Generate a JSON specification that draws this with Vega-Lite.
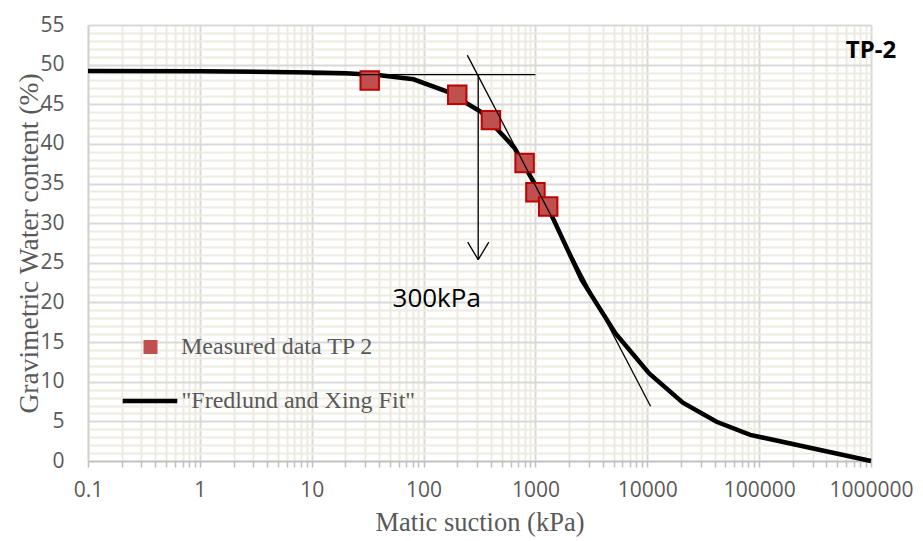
{
  "$schema": "https://vega.github.io/schema/vega-lite/v6.json",
  "width": 783,
  "height": 436,
  "autosize": {"type": "none"},
  "padding": {"left": 88, "top": 25, "right": 52, "bottom": 80},
  "background": "white",
  "config": {"view": {"stroke": null}, "font": "Open Sans"},
  "resolve": {"axis": {"x": "independent", "y": "independent"}},
  "layer": [
    {
      "data": {"values": [
        {"suction": 0.1, "w": 49.2, "series": "\"Fredlund and Xing Fit\""},
        {"suction": 1, "w": 49.18, "series": "\"Fredlund and Xing Fit\""},
        {"suction": 10, "w": 49.0, "series": "\"Fredlund and Xing Fit\""},
        {"suction": 20.3, "w": 48.9, "series": "\"Fredlund and Xing Fit\""},
        {"suction": 40.6, "w": 48.65, "series": "\"Fredlund and Xing Fit\""},
        {"suction": 81.25, "w": 48.15, "series": "\"Fredlund and Xing Fit\""},
        {"suction": 162.5, "w": 46.6, "series": "\"Fredlund and Xing Fit\""},
        {"suction": 325, "w": 44.05, "series": "\"Fredlund and Xing Fit\""},
        {"suction": 650, "w": 39.5, "series": "\"Fredlund and Xing Fit\""},
        {"suction": 1300, "w": 31.9, "series": "\"Fredlund and Xing Fit\""},
        {"suction": 2600, "w": 22.8, "series": "\"Fredlund and Xing Fit\""},
        {"suction": 5200, "w": 16.1, "series": "\"Fredlund and Xing Fit\""},
        {"suction": 10400, "w": 11.05, "series": "\"Fredlund and Xing Fit\""},
        {"suction": 20800, "w": 7.35, "series": "\"Fredlund and Xing Fit\""},
        {"suction": 41600, "w": 4.95, "series": "\"Fredlund and Xing Fit\""},
        {"suction": 83200, "w": 3.3, "series": "\"Fredlund and Xing Fit\""},
        {"suction": 1000000, "w": 0, "series": "\"Fredlund and Xing Fit\""}
      ]},
      "mark": {"type": "line", "strokeWidth": 4.5},
      "encoding": {
        "x": {
          "field": "suction", "type": "quantitative",
          "scale": {"type": "log", "domain": [0.1, 1000000], "nice": false},
          "axis": {
            "orient": "bottom",
            "values": [0.2,0.3,0.4,0.5,0.6,0.7,0.8,0.9,2,3,4,5,6,7,8,9,20,30,40,50,60,70,80,90,200,300,400,500,600,700,800,900,2000,3000,4000,5000,6000,7000,8000,9000,20000,30000,40000,50000,60000,70000,80000,90000,200000,300000,400000,500000,600000,700000,800000,900000],
            "grid": true, "gridColor": "#eeece1", "gridWidth": 2,
            "labels": false, "domain": false,
            "ticks": true, "tickColor": "#bfbfbf", "tickSize": 6, "tickWidth": 1.5,
            "title": null
          }
        },
        "y": {
          "field": "w", "type": "quantitative",
          "scale": {"domain": [0, 55], "nice": false, "zero": true},
          "axis": {
            "orient": "left",
            "values": [1,2,3,4,6,7,8,9,11,12,13,14,16,17,18,19,21,22,23,24,26,27,28,29,31,32,33,34,36,37,38,39,41,42,43,44,46,47,48,49,51,52,53,54],
            "grid": true, "gridColor": "#eeece1", "gridWidth": 2,
            "labels": false, "domain": false, "ticks": false,
            "title": null
          }
        },
        "color": {
          "field": "series", "type": "nominal",
          "scale": {"domain": ["\"Fredlund and Xing Fit\""], "range": ["black"]},
          "legend": {
            "orient": "none", "legendX": 32, "legendY": 346,
            "title": null, "padding": 0,
            "symbolType": "stroke", "symbolSize": 2980, "symbolStrokeWidth": 4.5,
            "symbolStrokeColor": "black",
            "labelFont": "Liberation Serif", "labelFontSize": 24, "labelColor": "#595959",
            "labelLimit": 500, "labelOffset": 1.5
          }
        }
      }
    },
    {
      "data": {"values": [
        {"suction": 33, "w": 48.0, "series": "Measured data TP 2"},
        {"suction": 200, "w": 46.2, "series": "Measured data TP 2"},
        {"suction": 400, "w": 43.0, "series": "Measured data TP 2"},
        {"suction": 800, "w": 37.6, "series": "Measured data TP 2"},
        {"suction": 1000, "w": 33.9, "series": "Measured data TP 2"},
        {"suction": 1300, "w": 32.1, "series": "Measured data TP 2"}
      ]},
      "mark": {"type": "point", "filled": true, "fill": "#c0504d", "stroke": "#c00000", "strokeWidth": 2, "opacity": 1, "size": 340},
      "encoding": {
        "x": {
          "field": "suction", "type": "quantitative",
          "axis": {
            "orient": "bottom",
            "values": [0.1, 1, 10, 100, 1000, 10000, 100000, 1000000],
            "format": "~f",
            "grid": true, "gridColor": "#d9d9d9", "gridWidth": 2,
            "domain": true, "domainColor": "#bfbfbf", "domainWidth": 1.5,
            "ticks": true, "tickColor": "#bfbfbf", "tickSize": 6, "tickWidth": 1.5,
            "labelFont": "Open Sans", "labelFontSize": 21, "labelColor": "#595959",
            "labelPadding": 12, "labelOverlap": false, "labelFlush": false,
            "title": "Matic suction (kPa)",
            "titleFont": "Liberation Serif", "titleFontSize": 26.5, "titleFontWeight": "normal",
            "titleColor": "#595959", "titleBaseline": "alphabetic", "titleY": 69
          }
        },
        "y": {
          "field": "w", "type": "quantitative",
          "axis": {
            "orient": "left",
            "values": [0, 5, 10, 15, 20, 25, 30, 35, 40, 45, 50, 55],
            "grid": true, "gridColor": "#d9d9d9", "gridWidth": 2,
            "domain": true, "domainColor": "#d0d0d0", "domainWidth": 1.5,
            "ticks": false, "tickSize": 0,
            "labelFont": "Open Sans", "labelFontSize": 21, "labelColor": "#595959",
            "labelPadding": 24, "labelOverlap": false, "labelFlush": false,
            "title": "Gravimetric Water content (%)",
            "titleFont": "Liberation Serif", "titleFontSize": 27.5, "titleFontWeight": "normal",
            "titleColor": "#595959", "titleAlign": "center", "titleBaseline": "alphabetic",
            "titleX": -51, "titleY": 218, "titleAngle": -90
          }
        },
        "shape": {
          "field": "series", "type": "nominal",
          "scale": {"domain": ["Measured data TP 2"], "range": ["square"]},
          "legend": {
            "orient": "none", "legendX": 50.5, "legendY": 310,
            "title": null, "padding": 0,
            "symbolSize": 196, "symbolStrokeWidth": 2,
            "symbolFillColor": "#c0504d", "symbolStrokeColor": "#c00000",
            "labelFont": "Liberation Serif", "labelFontSize": 24, "labelColor": "#595959",
            "labelLimit": 500, "labelOffset": 18.5
          }
        }
      }
    },
    {
      "data": {"values": [
        {"sx": 10, "wy": 48.75, "sx2": 1000, "wy2": 48.75},
        {"sx": 246, "wy": 51.2, "sx2": 10700, "wy2": 6.9},
        {"sx": 308, "wy": 48.75, "sx2": 308, "wy2": 25.4},
        {"sx": 248, "wy": 27.6, "sx2": 308, "wy2": 25.4},
        {"sx": 383, "wy": 27.6, "sx2": 308, "wy2": 25.4}
      ]},
      "mark": {"type": "rule", "color": "black", "strokeWidth": 1.3},
      "encoding": {
        "x": {"field": "sx", "type": "quantitative", "axis": null},
        "y": {"field": "wy", "type": "quantitative", "axis": null},
        "x2": {"field": "sx2"},
        "y2": {"field": "wy2"}
      }
    },
    {
      "data": {"values": [{"suction": 131, "w": 20.4, "label": "300kPa"}]},
      "mark": {"type": "text", "font": "Open Sans", "fontSize": 26, "color": "black", "align": "center", "baseline": "middle"},
      "encoding": {
        "x": {"field": "suction", "type": "quantitative", "axis": null},
        "y": {"field": "w", "type": "quantitative", "axis": null},
        "text": {"field": "label"}
      }
    },
    {
      "data": {"values": [{"suction": 1000000, "w": 51.7, "label": "TP-2"}]},
      "mark": {"type": "text", "font": "Open Sans", "fontSize": 24, "fontWeight": "bold", "color": "black", "align": "center", "baseline": "middle"},
      "encoding": {
        "x": {"field": "suction", "type": "quantitative", "axis": null},
        "y": {"field": "w", "type": "quantitative", "axis": null},
        "text": {"field": "label"}
      }
    }
  ]
}
